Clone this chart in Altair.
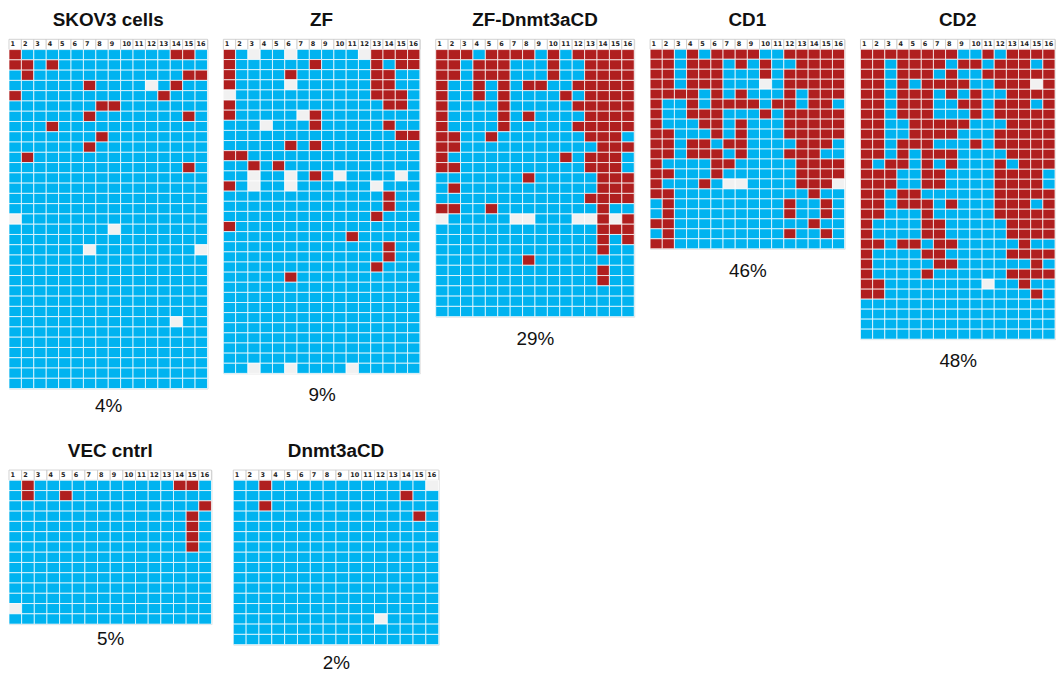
import altair as alt
import pandas as pd

# Column header labels (CpG positions)
POSITIONS = ["1", "2", "3", "4", "5", "6", "7", "8", "9", "10",
             "11", "12", "13", "14", "15", "16"]

# M = methylated (red), U = unmethylated (blue), - = not determined (white)
SKOV3 = [
    "MUUUUUUUUUUUUMMU", "MMUMUUUUUUUUUUUU", "UMUUUUUUUUUUUUMM", "UUUUUUMUUUU-UMUU",
    "MUUUUUUUUUUUMUUU", "UUUUUUUMMUUUUUUU", "UUUUUUMUUUUUUUMU", "UUUMUUUUUUUUUUUU",
    "UUUUUUUMUUUUUUUU", "UUUUUUMUUUUUUUUU", "UMUUUUUUUUUUUUUU", "UUUUUUUUUUUUUUMU",
    "UUUUUUUUUUUUUUUU", "UUUUUUUUUUUUUUUU", "UUUUUUUUUUUUUUUU", "UUUUUUUUUUUUUUUU",
    "-UUUUUUUUUUUUUUU", "UUUUUUUU-UUUUUUU", "UUUUUUUUUUUUUUUU", "UUUUUU-UUUUUUUU-",
    "UUUUUUUUUUUUUUUU", "UUUUUUUUUUUUUUUU", "UUUUUUUUUUUUUUUU", "UUUUUUUUUUUUUUUU",
    "UUUUUUUUUUUUUUUU", "UUUUUUUUUUUUUUUU", "UUUUUUUUUUUUU-UU", "UUUUUUUUUUUUUUUU",
    "UUUUUUUUUUUUUUUU", "UUUUUUUUUUUUUUUU", "UUUUUUUUUUUUUUUU", "UUUUUUUUUUUUUUUU",
    "UUUUUUUUUUUUUUUU",
]

ZF = [
    "MU-UU-UUUUU-MMMM", "MUUUUUUMUUUUMUMM", "MUUUUMUUUUUUMMUU", "MUUUU-UUUUUUMMUU",
    "-UUUUUUUUUUUMMMU", "MUUUUUUUUUUUUMMU", "MUUUUU-MUUUUUUUU", "UUU-UUUMUUUUUMUU",
    "UUUUUUUUUUUUUUMM", "UUUUUMUMUUUUUUUU", "MMUUUUUUUUUUUUUU", "UUMUMUUUUUUUUUUU",
    "UU-UU-UMU-UUUU-U", "MU-UU-UUUUUU-UUU", "UUUUUUUUUUUUUMUU", "UUUUUUUUUUUUUMUU",
    "UUUUUUUUUUUUMUUU", "MUUUUUUUUUUUUUUU", "UUUUUUUUUUMUUUUU", "UUUUUUUUUUUUUMUU",
    "UUUUUUUUUUUUUMUU", "UUUUUUUUUUUUMUUU", "UUUUUMUUUUUUUUUU", "UUUUUUUUUUUUUUUU",
    "UUUUUUUUUUUUUUUU", "UUUUUUUUUUUUUUUU", "UUUUUUUUUUUUUUUU", "UUUUUUUUUUUUUUUU",
    "UUUUUUUUUUUUUUUU", "UUUUUUUUUUUUUUUU", "UUUUUUUUUUUUUUUU", "UU-UU-UUUU-UUUUU",
]

ZF_DNMT3ACD = [
    "MMMUMMMMUMUMMMMM", "MMUMMMUUUMUUMMMM", "MMUMMMUUUMUUMMMM", "MUUMUMUMMUUMMMMM",
    "MUUMUMUUUUMUMMMM", "MUUUUMUUUUUMMMMM", "MUUUUMUMUUUUMMMM", "MUUUUMUUUUUMMMMM",
    "MMUUMUUUUUUUMMMU", "MMUUUUUUUUUUUMMM", "MUUUUUUUUUMUMMMU", "MMUUUUUUUUUUMMMU",
    "UUUUUUUMUUUUUMMM", "UMUUUUUUUUUUUMMM", "UUUUUUUUUUUUMMMM", "MMUUMUUUUUUUUMUU",
    "-UUUUU--UUU--M-M", "UUUUUUUUUUUUUMMM", "UUUUUUUUUUUUUMUM", "UUUUUUUUUUUUUMUU",
    "UUUUUUUMUUUUUUUU", "UUUUUUUUUUUUUMUU", "UUUUUUUUUUUUUMUU", "UUUUUUUUUUUUUUUU",
    "UUUUUUUUUUUUUUUU", "UUUUUUUUUUUUUUUU",
]

CD1 = [
    "MMUMUMMMMUUMMMMM", "MMUMMMUMUMUUMMMM", "MMUMMMUUUMUMMMMM", "MMUMMMUUU-UMMMMM",
    "MMMMUMUMUUUMUMMM", "MUUMUMMMMUMMUMMU", "MUUMMMUUUMUMMMMM", "MUUUMMUMUUUMMMMM",
    "MMUUUMUMUUUMMMMM", "MMUMMUMMUUUUMMMU", "MMUMMMUMUUUMMMUU", "MUUUUMMUUUUUMMMM",
    "MMUUUMUUUUUUMMMM", "MUUUMU--UUUUMMM-", "MMUUUUUUUUUUUMUU", "UMUUUUUUUUUMUUMU",
    "UMUUUUUUUUUMUUMU", "MMUUUUUUUUUUUMUU", "UMUUUUUUUUUMUUMU", "MMUUUUUUUUUUUUUU",
]

CD2 = [
    "MMMMMMMMUUMUMMMM", "MMUMMMMUMMUMMMUM", "MMUMMMUMUUMMMMMM", "MMUMUMMMMUUMMM-M",
    "MMUMMMUMUMUUMMMM", "MMUMMMUUMMUMMMUM", "MMUMMMUUUMUMMMMM", "MMUUMMMMMUUUMMMM",
    "MMUUMMMMUUUMMMMM", "MMUMMMUUUMUMMMMM", "MMUMUMMMUUUUMMMM", "MUMMUMUMUUUMUMMM",
    "MMMUUMMUUUUMMMMU", "MMMUUMMUUUUMMMMU", "MMUMMUUUUUUMMMMM", "MMUMMMUMUUUMMMUM",
    "MMUUUMUUUUUMMMMM", "MUUUUMMUUUUUMMMM", "MUUUUMMUUUUUMMMM", "MMUMMUMMUUUUUMUU",
    "MUUUUMMUUUUUMMMM", "MUUUUUMMUUUUUUMU", "MUUUUMUUUUUUMMMM", "MMUUUUUUUU-UUMUU",
    "MMUUUUUUUUUUUUMU", "UUUUUUUUUUUUUUUU", "UUUUUUUUUUUUUUUU", "UUUUUUUUUUUUUUUU",
    "UUUUUUUUUUUUUUUU",
]

VEC_CNTRL = [
    "UMUUUUUUUUUUUMMU", "UMUUMUUUUUUUUUUU", "UUUUUUUUUUUUUUUM", "UUUUUUUUUUUUUUMU",
    "UUUUUUUUUUUUUUMU", "UUUUUUUUUUUUUUMU", "UUUUUUUUUUUUUUMU", "UUUUUUUUUUUUUUUU",
    "UUUUUUUUUUUUUUUU", "UUUUUUUUUUUUUUUU", "UUUUUUUUUUUUUUUU", "UUUUUUUUUUUUUUUU",
    "-UUUUUUUUUUUUUUU", "UUUUUUUUUUUUUUUU",
]

DNMT3ACD = [
    "UUMUUUUUUUUUUUU-", "UUUUUUUUUUUUUMUU", "UUMUUUUUUUUUUUUU", "UUUUUUUUUUUUUUMU",
    "UUUUUUUUUUUUUUUU", "UUUUUUUUUUUUUUUU", "UUUUUUUUUUUUUUUU", "UUUUUUUUUUUUUUUU",
    "UUUUUUUUUUUUUUUU", "UUUUUUUUUUUUUUUU", "UUUUUUUUUUUUUUUU", "UUUUUUUUUUUUUUUU",
    "UUUUUUUUUUUUUUUU", "UUUUUUUUUUU-UUUU", "UUUUUUUUUUUUUUUU", "UUUUUUUUUUUUUUUU",
]

TITLES_TOP = ["SKOV3 cells", "ZF", "ZF-Dnmt3aCD", "CD1", "CD2"]
PCTS_TOP = ["4%", "9%", "29%", "46%", "48%"]
TITLES_BOTTOM = ["VEC cntrl", "Dnmt3aCD"]
PCTS_BOTTOM = ["5%", "2%"]

RED = "#b01f1f"
BLUE = "#00b3f0"
BLANK = "#f1f1f1"
FONT = "Liberation Sans"


def build_panel(title, rows, pct, width, cell_h, pct_pad):
    n = len(rows)
    cells = pd.DataFrame(
        [{"row": r + 1, "col": c + 1, "state": ch}
         for r, s in enumerate(rows) for c, ch in enumerate(s)]
    )
    head = pd.DataFrame({"row": [0] * len(POSITIONS),
                         "col": [i + 1 for i in range(len(POSITIONS))],
                         "label": POSITIONS})
    cell_w = width / len(POSITIONS)
    xenc = alt.X(
        "col:O",
        scale=alt.Scale(paddingInner=0, paddingOuter=0),
        axis=alt.Axis(title=pct, labels=False, ticks=False, domain=False, grid=False,
                      titleFontSize=19, titleFontWeight="normal", titleFont=FONT,
                      titleColor="#111111", titlePadding=pct_pad),
    )
    yenc = alt.Y("row:O", scale=alt.Scale(paddingInner=0, paddingOuter=0), axis=None)
    hrect = alt.Chart(head).mark_rect(fill="white", stroke="#c9c9c9", strokeWidth=0.8).encode(
        x=xenc, y=yenc)
    grid = alt.Chart(cells).mark_rect(stroke="#ffffff", strokeWidth=0.9, strokeOpacity=0.8).encode(
        x=xenc, y=yenc,
        color=alt.Color("state:N",
                        scale=alt.Scale(domain=["M", "U", "-"], range=[RED, BLUE, BLANK]),
                        legend=None),
    )
    htext = alt.Chart(head).mark_text(
        font="DejaVu Sans", fontSize=6.5, fontWeight="bold", align="left",
        dx=-cell_w / 2 + 1.5, color="#222222"
    ).encode(x=xenc, y=yenc, text="label:N")
    return alt.layer(hrect, grid, htext).properties(
        width=width,
        height=(n + 1) * cell_h,
        title=alt.TitleParams(title, fontSize=19, font=FONT, fontWeight="bold",
                              color="#111111", anchor="middle", offset=9),
    )


top = alt.hconcat(
    build_panel(TITLES_TOP[0], SKOV3, PCTS_TOP[0], 200, 10.35, 8),
    build_panel(TITLES_TOP[1], ZF, PCTS_TOP[1], 198, 10.2, 12),
    build_panel(TITLES_TOP[2], ZF_DNMT3ACD, PCTS_TOP[2], 200, 10.35, 13),
    build_panel(TITLES_TOP[3], CD1, PCTS_TOP[3], 196, 10.05, 13),
    build_panel(TITLES_TOP[4], CD2, PCTS_TOP[4], 196, 10.07, 13),
    spacing=14,
)
bottom = alt.hconcat(
    build_panel(TITLES_BOTTOM[0], VEC_CNTRL, PCTS_BOTTOM[0], 204, 10.35, 6),
    build_panel(TITLES_BOTTOM[1], DNMT3ACD, PCTS_BOTTOM[1], 207, 10.35, 9),
    spacing=20,
)

chart = alt.vconcat(top, bottom, spacing=25).properties(
    padding={"left": 0, "top": 0, "right": 0, "bottom": 0}
).configure_view(stroke=None).configure(background="white")

chart.save("out.html", embed_options={"renderer": "svg", "actions": False})
